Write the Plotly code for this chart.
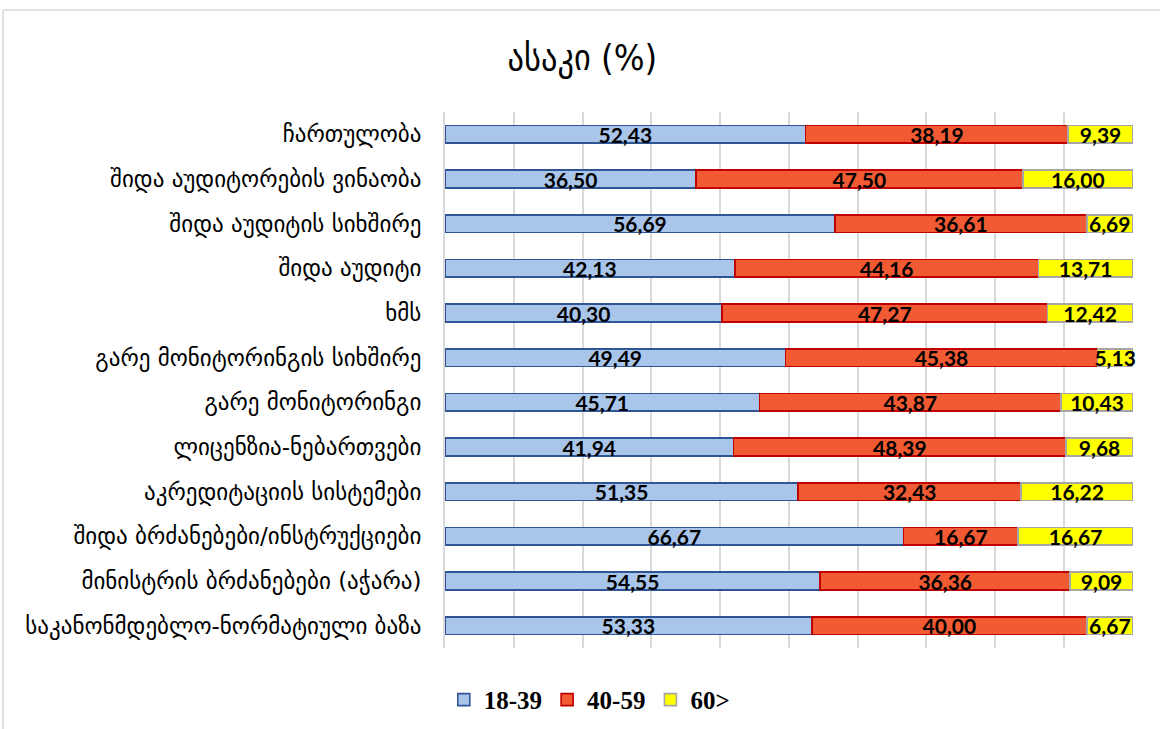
import plotly.graph_objects as go

categories = [
    "ჩართულობა",
    "შიდა აუდიტორების ვინაობა",
    "შიდა აუდიტის სიხშირე",
    "შიდა აუდიტი",
    "ხმს",
    "გარე მონიტორინგის სიხშირე",
    "გარე მონიტორინგი",
    "ლიცენზია-ნებართვები",
    "აკრედიტაციის სისტემები",
    "შიდა ბრძანებები/ინსტრუქციები",
    "მინისტრის ბრძანებები (აჭარა)",
    "საკანონმდებლო-ნორმატიული ბაზა",
]

age_18_39 = [52.43, 36.50, 56.69, 42.13, 40.30, 49.49, 45.71, 41.94, 51.35, 66.67, 54.55, 53.33]
age_40_59 = [38.19, 47.50, 36.61, 44.16, 47.27, 45.38, 43.87, 48.39, 32.43, 16.67, 36.36, 40.00]
age_60_plus = [9.39, 16.00, 6.69, 13.71, 12.42, 5.13, 10.43, 9.68, 16.22, 16.67, 9.09, 6.67]

series_names = ["18-39", "40-59", "60>"]
fills = ["#a9c5ea", "#f15a32", "#ffff00"]
edges = ["#2f5597", "#c00000", "#a6a6a6"]


def fmt(v):
    return f"{v:.2f}".replace(".", ",")


fig = go.Figure()
for name, vals, fill, edge in zip(series_names, [age_18_39, age_40_59, age_60_plus], fills, edges):
    fig.add_trace(go.Bar(
        name=name,
        y=categories,
        x=vals,
        orientation="h",
        marker=dict(color=fill, line=dict(color=edge, width=1.6)),
        text=[fmt(v) for v in vals],
        textposition="inside",
        insidetextanchor="middle",
        constraintext="none",
        textfont=dict(family="Lato, Liberation Sans, sans-serif", size=21, color="#000000", weight="bold"),
        cliponaxis=False,
        hoverinfo="x+y+name",
    ))

fig.update_layout(
    barmode="stack",
    bargap=0.6,
    width=1160,
    height=729,
    margin=dict(l=445, r=27, t=112, b=81),
    paper_bgcolor="#ffffff",
    plot_bgcolor="#ffffff",
    title=dict(
        text="ასაკი (%)",
        font=dict(family="DejaVu Sans Condensed, DejaVu Sans, sans-serif", size=36, color="#000000"),
        x=0.502, xref="container", xanchor="center",
        y=0.921, yref="container", yanchor="middle",
    ),
    xaxis=dict(
        range=[0, 100.03],
        tickvals=[0, 10, 20, 30, 40, 50, 60, 70, 80, 90, 100],
        showticklabels=False,
        showgrid=True,
        gridcolor="#d9d9d9",
        gridwidth=2,
        zeroline=False,
        showline=False,
        fixedrange=True,
    ),
    yaxis=dict(
        autorange="reversed",
        showline=True,
        linecolor="#d9d9d9",
        linewidth=2,
        ticks="",
        ticklabelstandoff=17,
        tickfont=dict(family="DejaVu Sans, sans-serif", size=23, color="#000000"),
        fixedrange=True,
    ),
    legend=dict(
        orientation="h",
        xref="container", x=0.508, xanchor="center",
        yref="container", y=0.04, yanchor="middle",
        font=dict(family="Liberation Serif, serif", size=25, color="#000000", weight="bold"),
        itemwidth=30,
        traceorder="normal",
    ),
    showlegend=True,
    shapes=[
        dict(type="line", xref="paper", yref="paper", x0=-0.6424, x1=1.05, y0=1.1903, y1=1.1903,
             line=dict(color="#d9d9d9", width=1.5)),
        dict(type="line", xref="paper", yref="paper", x0=-0.6424, x1=-0.6424, y0=1.1903, y1=-0.2,
             line=dict(color="#d9d9d9", width=1.5)),
    ],
)

fig.write_html("out.html")
